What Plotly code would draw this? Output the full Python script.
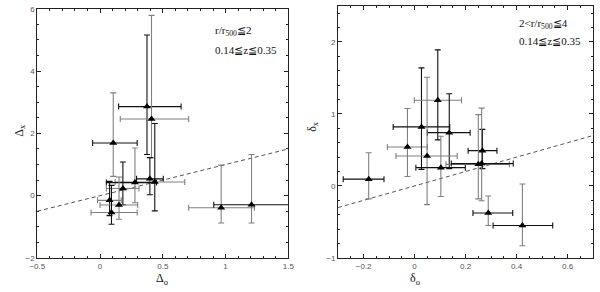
import plotly.graph_objects as go

# ---- Left panel data (Delta_o, Delta_x) ----
L_x    = [0.374, 0.41, 0.105, 0.397, 0.436, 0.278, 0.182, 0.076, 0.151, 0.091, 0.965, 1.207]
L_y    = [2.86, 2.46, 1.69, 0.54, 0.44, 0.42, 0.23, -0.15, -0.30, -0.54, -0.39, -0.29]
L_xlo  = [0.148, 0.161, -0.059, 0.291, 0.12, 0.05, 0.05, -0.02, 0.0, -0.072, 0.706, 0.906]
L_xhi  = [0.646, 0.706, 0.296, 0.504, 0.675, 0.45, 0.31, 0.169, 0.30, 0.296, 1.23, 1.60]
L_ylo  = [1.32, 1.22, 0.62, 0.03, -0.49, -0.23, -0.29, -0.64, -0.76, -0.92, -0.88, -0.88]
L_yhi  = [5.16, 5.79, 3.30, 1.22, 2.32, 1.53, 1.08, 0.46, 0.60, 0.33, 0.98, 1.32]
L_vcol = ["k", "g", "g", "k", "k", "g", "k", "k", "g", "k", "g", "g"]
L_hcol = ["k", "g", "k", "k", "g", "k", "g", "g", "g", "g", "g", "k"]

# ---- Right panel data (delta_o, delta_x) ----
R_x    = [-0.180, -0.028, 0.027, 0.091, 0.136, 0.049, 0.103, 0.266, 0.25, 0.263, 0.289, 0.423]
R_y    = [0.094, 0.54, 0.82, 1.19, 0.74, 0.415, 0.254, 0.49, 0.30, 0.31, -0.375, -0.55]
R_xlo  = [-0.280, -0.107, -0.084, -0.001, 0.05, -0.073, 0.005, 0.21, 0.123, 0.144, 0.229, 0.308]
R_xhi  = [-0.120, 0.05, 0.138, 0.184, 0.218, 0.167, 0.199, 0.323, 0.372, 0.387, 0.385, 0.542]
R_ylo  = [-0.18, 0.13, 0.23, 0.64, 0.24, -0.26, -0.147, 0.24, -0.18, -0.205, -0.55, -0.83]
R_yhi  = [0.46, 1.075, 1.64, 1.89, 1.28, 1.51, 0.69, 0.785, 0.99, 1.08, -0.14, 0.027]
R_vcol = ["g", "g", "k", "k", "k", "g", "g", "k", "g", "g", "g", "g"]
R_hcol = ["k", "g", "k", "g", "k", "g", "k", "k", "g", "k", "k", "k"]

L_xrange = [-0.5, 1.5]
L_yrange = [-2, 6]
R_xrange = [-0.3, 0.7]
R_yrange = [-1, 2.5]

COL = {"k": "#111111", "g": "#808080"}
W, H = 600, 292

fig = go.Figure()


def add_points(xs, ys, xlo, xhi, ylo, yhi, vcol, hcol, xa, ya):
    for i in range(len(xs)):
        # horizontal error bar
        fig.add_trace(go.Scatter(
            x=[xs[i]], y=[ys[i]], mode="markers", xaxis=xa, yaxis=ya,
            marker=dict(size=1, color="rgba(0,0,0,0)"),
            error_x=dict(type="data", symmetric=False,
                         array=[xhi[i] - xs[i]], arrayminus=[xs[i] - xlo[i]],
                         color=COL[hcol[i]], thickness=1.1, width=3),
            showlegend=False, hoverinfo="skip"))
        # vertical error bar
        fig.add_trace(go.Scatter(
            x=[xs[i]], y=[ys[i]], mode="markers", xaxis=xa, yaxis=ya,
            marker=dict(size=1, color="rgba(0,0,0,0)"),
            error_y=dict(type="data", symmetric=False,
                         array=[yhi[i] - ys[i]], arrayminus=[ys[i] - ylo[i]],
                         color=COL[vcol[i]], thickness=1.1, width=3),
            showlegend=False, hoverinfo="skip"))
    fig.add_trace(go.Scatter(
        x=xs, y=ys, mode="markers", xaxis=xa, yaxis=ya,
        marker=dict(symbol="triangle-up", size=7, color="black"),
        showlegend=False))


# dashed 1:1 lines
fig.add_trace(go.Scatter(x=L_xrange, y=L_xrange, mode="lines", xaxis="x", yaxis="y",
                         line=dict(color="#555", width=1, dash="4px,3px"), showlegend=False))
fig.add_trace(go.Scatter(x=R_xrange, y=R_xrange, mode="lines", xaxis="x2", yaxis="y2",
                         line=dict(color="#555", width=1, dash="4px,3px"), showlegend=False))

add_points(L_x, L_y, L_xlo, L_xhi, L_ylo, L_yhi, L_vcol, L_hcol, "x", "y")
add_points(R_x, R_y, R_xlo, R_xhi, R_ylo, R_yhi, R_vcol, R_hcol, "x2", "y2")

tickfont = dict(family="Liberation Sans, Arial", size=8, color="#555")


def ax(rng, dtick, mdtick, domain, anchor):
    return dict(range=rng, domain=domain, anchor=anchor, showgrid=False, zeroline=False,
                showline=True, linecolor="#222", linewidth=1, mirror="allticks",
                ticks="inside", ticklen=4, tickwidth=1, tickcolor="#222",
                dtick=dtick, tick0=0, tickfont=tickfont,
                minor=dict(dtick=mdtick, tick0=0, ticks="inside", ticklen=2,
                           tickcolor="#222", showgrid=False))


fig.update_layout(
    width=W, height=H, margin=dict(l=0, r=0, t=0, b=0),
    plot_bgcolor="white", paper_bgcolor="white",
    xaxis=ax(L_xrange, 0.5, 0.1, [30 / W, 287 / W], "y"),
    yaxis=ax(L_yrange, 2, 0.5, [(H - 262) / H, (H - 5) / H], "x"),
    xaxis2=ax(R_xrange, 0.2, 0.05, [338 / W, 599 / W], "y2"),
    yaxis2=ax(R_yrange, 1, 0.2, [(H - 262) / H, (H - 2) / H], "x2"),
)

serif = "Liberation Serif, Times New Roman, serif"
ann = [
    dict(x=210 / W, y=1 - 28 / H, text="r/r<sub>500</sub>≦2", xanchor="left", yanchor="middle"),
    dict(x=210 / W, y=1 - 47 / H, text="0.14≦z≦0.35", xanchor="left", yanchor="middle"),
    dict(x=521 / W, y=1 - 21 / H, text="2&lt;r/r<sub>500</sub>≦4", xanchor="left", yanchor="middle"),
    dict(x=521 / W, y=1 - 38 / H, text="0.14≦z≦0.35", xanchor="left", yanchor="middle"),
]
for a in ann:
    fig.add_annotation(xref="paper", yref="paper", showarrow=False,
                       font=dict(family=serif, size=11, color="#111"), **a)

titles = [
    dict(x=158 / W, y=1 - 284 / H, text="Δ<sub>o</sub>", textangle=0),
    dict(x=12 / W, y=1 - 130 / H, text="Δ<sub>x</sub>", textangle=-90),
    dict(x=417 / W, y=1 - 284 / H, text="δ<sub>o</sub>", textangle=0),
    dict(x=312 / W, y=1 - 126 / H, text="δ<sub>x</sub>", textangle=-90),
]
for t in titles:
    fig.add_annotation(xref="paper", yref="paper", showarrow=False,
                       xanchor="center", yanchor="middle",
                       font=dict(family=serif, size=12, color="#111"), **t)

fig.write_html("out.html", config={"displayModeBar": False},
               post_script="document.body.style.margin='0';document.body.style.overflow='hidden';")
